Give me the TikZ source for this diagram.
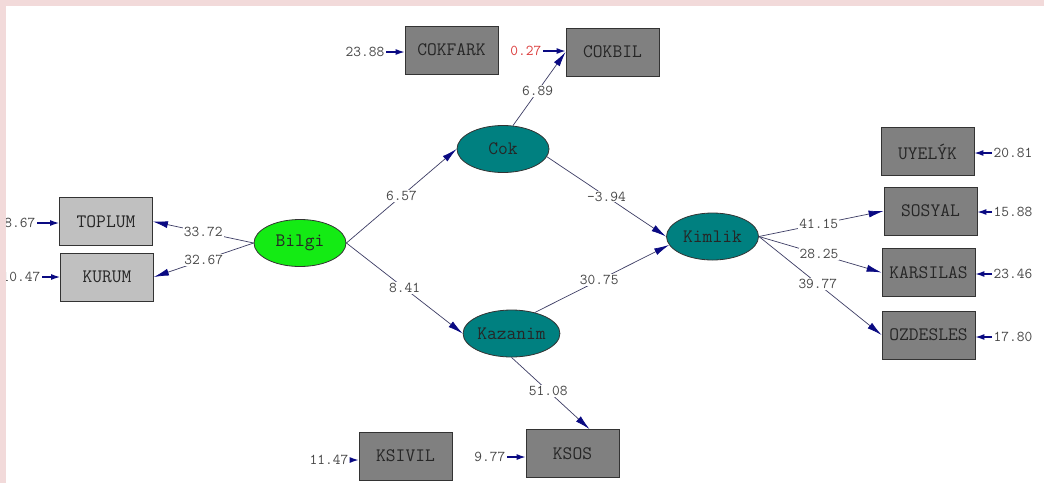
\documentclass[tikz,border=0pt]{standalone}
\usepackage{fontspec}
\usetikzlibrary{arrows.meta,shapes.geometric,calc}
\definecolor{pinkband}{RGB}{242,218,218}
\definecolor{boxdark}{RGB}{128,128,128}
\definecolor{boxlight}{RGB}{192,192,192}
\definecolor{tealfill}{RGB}{0,128,128}
\definecolor{greenfill}{RGB}{20,235,20}
\definecolor{linec}{RGB}{60,60,100}
\definecolor{headc}{RGB}{10,10,130}
\definecolor{numc}{RGB}{70,70,70}
\definecolor{redc}{RGB}{220,60,60}
\begin{document}
\begin{tikzpicture}[x=1pt,y=-1pt,
 obs/.style={draw=black!80, line width=0.8pt, fill=boxdark, minimum width=93pt, minimum height=48pt, inner sep=0pt, font=\ttfamily\fontsize{19}{19}\selectfont, text=black!85},
 obsl/.style={obs, fill=boxlight},
 lat/.style={ellipse, draw=black!80, line width=0.8pt, fill=tealfill, minimum width=92pt, minimum height=47pt, inner sep=0pt, font=\ttfamily\fontsize{19}{19}\selectfont, text=black!85},
 pathc/.style={draw=linec, line width=0.7pt, -{Latex[length=15pt,width=7pt,color=headc]}},
 err/.style={draw=headc, line width=1.2pt, -{Latex[length=9pt,width=6pt,color=headc]}},
 coef/.style={fill=white, inner sep=1pt, font=\ttfamily\fontsize{15}{15}\selectfont, text=numc},
 resid/.style={inner sep=1.5pt, font=\ttfamily\fontsize{15}{15}\selectfont, text=numc},
]
\useasboundingbox (0,0) rectangle (1044,483);
\fill[white] (0,0) rectangle (1044,483);

% observed
\node[obsl] (TOP) at (106,221.5) {TOPLUM};
\node[obsl] (KUR) at (107,277) {KURUM};
\node[obs] (CF) at (451.5,50) {COKFARK};
\node[obs] (CB) at (612.5,52) {COKBIL};
\node[obs] (KSOS) at (572.5,453.5) {KSOS};
\node[obs] (KSIV) at (405.5,456) {KSIVIL};
\node[obs] (UY) at (927.5,151.5) {UYELÝK};
\node[obs] (SOS) at (930.5,211) {SOSYAL};
\node[obs] (KAR) at (928.5,272.5) {KARSILAS};
\node[obs] (OZD) at (928.5,335) {OZDESLES};

% latent
\node[lat, fill=greenfill] (Bil) at (300,243) {Bilgi};
\node[lat] (Cok) at (503,149) {Cok};
\node[lat] (Kim) at (712.5,236.5) {Kimlik};
\node[lat] (Kaz) at (511.5,333.5) {Kazanim};

% paths
\draw[pathc] (Bil.west) -- node[coef,pos=.5]{33.72} (TOP.east);
\draw[pathc] (Bil.west) -- node[coef,pos=.5]{32.67} (KUR.east);
\draw[pathc] (Bil.east) -- node[coef,pos=.5]{6.57} (Cok.west);
\draw[pathc] (Bil.east) -- node[coef,pos=.5]{8.41} (Kaz.west);
\draw[pathc] (Cok.67) -- node[coef,pos=.47]{6.89} (CB.west);
\draw[pathc] (Cok.-10) -- node[coef,pos=.5]{-3.94} (Kim.west);
\draw[pathc] (Kaz.42) -- node[coef,pos=.48]{30.75} (Kim.191);
\draw[pathc] (Kaz.south) -- node[coef,pos=.47]{51.08} ([xshift=17pt]KSOS.north);
\draw[pathc] (Kim.east) -- node[coef,pos=.48]{41.15} (SOS.west);
\draw[pathc] (Kim.east) -- node[coef,pos=.49]{28.25} (KAR.west);
\draw[pathc] (Kim.east) -- node[coef,pos=.48]{39.77} (OZD.west);

% residuals
\node[resid, anchor=east] (eTOP) at (37,223) {8.67};
\draw[err] (eTOP.east) -- (eTOP.east -| TOP.west);
\node[resid, anchor=east] (eKUR) at (42,277) {10.47};
\draw[err] (eKUR.east) -- (eKUR.east -| KUR.west);
\node[resid, anchor=east] (eCF) at (386,52) {23.88};
\draw[err] (eCF.east) -- (eCF.east -| CF.west);
\node[resid, anchor=east, text=redc] (eCB) at (543,51) {0.27};
\draw[err] (eCB.east) -- (eCB.east -| CB.west);
\node[resid, anchor=east] (eKSIV) at (350,460) {11.47};
\draw[err] (eKSIV.east) -- (eKSIV.east -| KSIV.west);
\node[resid, anchor=east] (eKSOS) at (507,457) {9.77};
\draw[err] (eKSOS.east) -- (eKSOS.east -| KSOS.west);
\node[resid, anchor=west] (eUY) at (992,153) {20.81};
\draw[err] (eUY.west) -- (eUY.west -| UY.east);
\node[resid, anchor=west] (eSOS) at (992,212) {15.88};
\draw[err] (eSOS.west) -- (eSOS.west -| SOS.east);
\node[resid, anchor=west] (eKAR) at (992,274) {23.46};
\draw[err] (eKAR.west) -- (eKAR.west -| KAR.east);
\node[resid, anchor=west] (eOZD) at (992,337) {17.80};
\draw[err] (eOZD.west) -- (eOZD.west -| OZD.east);

% pink frame band
\fill[pinkband] (0,0) rectangle (1044,6);
\fill[pinkband] (0,0) rectangle (6,483);
\end{tikzpicture}
\end{document}
